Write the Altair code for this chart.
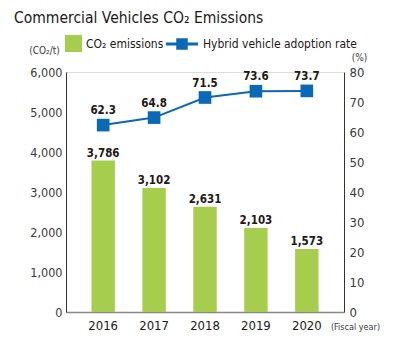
import altair as alt
import pandas as pd

years = ["2016", "2017", "2018", "2019", "2020"]
co2 = [3786, 3102, 2631, 2103, 1573]
rate = [62.3, 64.8, 71.5, 73.6, 73.7]

df = pd.DataFrame({"year": years, "co2": co2, "rate": rate})

FONT = "DejaVu Sans Condensed"
GREEN = "#a7cd4f"
BLUE = "#0a68b4"
DARK = "#231815"
GRAY = "#3a3a3a"

base = alt.Chart(df)

x = alt.X(
    "year:N",
    scale=alt.Scale(paddingInner=0.54, paddingOuter=0.5),
    axis=alt.Axis(
        title="(Fiscal year)", titleAngle=0, titleX=289, titleY=14,
        titleAlign="center", titleBaseline="middle", titleFont=FONT,
        titleFontSize=9, titleFontWeight="normal", titleColor=GRAY,
        labelAngle=0, labelFont=FONT, labelFontSize=13, labelColor=DARK,
        labelPadding=7, ticks=False, domainColor="#888888", domainWidth=1.5,
    ),
)

yl = alt.Y(
    "co2:Q",
    scale=alt.Scale(domain=[0, 6000], nice=False),
    axis=alt.Axis(
        title="(CO₂/t)", titleAngle=0, titleX=-22, titleY=-22,
        titleAlign="center", titleBaseline="middle", titleFont=FONT,
        titleFontSize=10, titleFontWeight="normal", titleColor=GRAY,
        values=[0, 1000, 2000, 3000, 4000, 5000, 6000], format=",.0f",
        labelFont=FONT, labelFontSize=12.5, labelColor=GRAY, labelPadding=4,
        ticks=False, grid=False, domainColor="#333333", domainWidth=1,
    ),
)

yr = alt.Y(
    "rate:Q",
    scale=alt.Scale(domain=[0, 80], nice=False),
    axis=alt.Axis(
        orient="right",
        title="(%)", titleAngle=0, titleX=15, titleY=-15,
        titleAlign="center", titleBaseline="middle", titleFont=FONT,
        titleFontSize=10, titleFontWeight="normal", titleColor=GRAY,
        values=[0, 10, 20, 30, 40, 50, 60, 70, 80], format=".0f",
        labelFont=FONT, labelFontSize=13, labelColor=GRAY, labelPadding=5,
        ticks=False, grid=False, domainColor="#333333", domainWidth=1,
    ),
)

bars = base.mark_bar(color=GREEN).encode(
    x=x,
    y=yl,
    color=alt.Color(
        "lab:N",
        scale=alt.Scale(domain=["CO₂ emissions"], range=[GREEN]),
        legend=alt.Legend(
            title=None, orient="none", legendX=-1, legendY=-37,
            symbolType="square", symbolSize=289, symbolStrokeWidth=0,
            symbolOpacity=1, labelFont=FONT, labelFontSize=12,
            labelColor=DARK, labelOffset=4, padding=0, labelLimit=300,
        ),
    ),
).transform_calculate(lab="'CO₂ emissions'")

bar_text = base.mark_text(
    baseline="alphabetic", dy=-4, font=FONT, fontSize=11.5, fontWeight="bold",
    color=DARK,
).encode(x=x, y=yl, text=alt.Text("co2:Q", format=",.0f"))

left = alt.layer(bars, bar_text)

LINE_SYMBOL = "M-1,-0.1H1V0.1H-1Z M-0.36,-0.36H0.36V0.36H-0.36Z"

line = base.mark_line(strokeWidth=2, color=BLUE).encode(
    x=x,
    y=yr,
    color=alt.Color(
        "lab:N",
        scale=alt.Scale(domain=["Hybrid vehicle adoption rate"], range=[BLUE]),
        legend=alt.Legend(
            title=None, orient="none", legendX=100, legendY=-44,
            symbolType=LINE_SYMBOL, symbolSize=1024, symbolFillColor=BLUE,
            symbolStrokeWidth=0, symbolOpacity=1,
            labelFont=FONT, labelFontSize=12, labelColor=DARK,
            labelOffset=5, padding=0, labelLimit=300,
        ),
    ),
).transform_calculate(lab="'Hybrid vehicle adoption rate'")

points = base.mark_point(
    shape="square", size=160, filled=True, opacity=1, color=BLUE
).encode(x=x, y=yr)

line_text = base.mark_text(
    baseline="alphabetic", dy=-11, font=FONT, fontSize=11.5, fontWeight="bold",
    color=DARK,
).encode(x=x, y=yr, text=alt.Text("rate:Q", format=".1f"))

right = alt.layer(line, points, line_text)

chart = alt.layer(left, right).resolve_scale(
    y="independent", color="independent"
).properties(
    width=278,
    height=240,
    autosize=alt.AutoSizeParams(type="none"),
    padding={"left": 66, "top": 72, "right": 56, "bottom": 44},
    title=alt.TitleParams(
        "Commercial Vehicles CO₂ Emissions", anchor="start", frame="group",
        font=FONT, fontSize=15.5, fontWeight="normal", color=DARK,
        dx=-52, dy=-2, offset=0,
    ),
).configure_view(stroke=None).configure(background="white")

chart.save("out.html", embed_options={"renderer": "svg", "actions": False})
